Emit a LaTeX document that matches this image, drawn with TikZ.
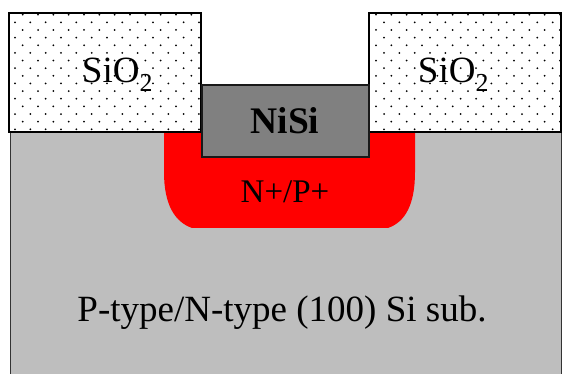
\documentclass[tikz,border=0pt]{standalone}
\usepackage{fontspec}
\setmainfont{Liberation Serif}
\usetikzlibrary{positioning}

\definecolor{subgray}{HTML}{BEBEBE}
\definecolor{nisigray}{HTML}{808080}
\tikzset{
    substrate/.style={draw=black!80, line width=1.6pt, fill=subgray},
    oxide/.style={draw=black, line width=2pt},
    silicide/.style={draw=black!90, line width=2pt, fill=nisigray},
    dot/.style={fill=black},
    bigtext/.style={font=\fontsize{37}{37}\selectfont, inner sep=0pt},
    midtext/.style={font=\fontsize{33}{33}\selectfont, inner sep=0pt}
}

\begin{document}
\begin{tikzpicture}[x=1pt, y=-1pt]
    \useasboundingbox (0,0) rectangle (563,374);

    % Substrate and doped region
    \draw [substrate] (10.5,132) rectangle (561.5,385);
    \fill [red] (164,132) -- (415,132) -- (415,172) .. controls (415,205) and (405,222) .. (388,228) -- (192,228) .. controls (175,222) and (164,205) .. (164,172) -- cycle;

    % Oxide blocks, dots, then outline on top
    \foreach \blockx/\evenx/\oddx in {9/22.7/15, 369/376/368.7} {
        \begin{scope}
            \clip (\blockx,13) rectangle ({\blockx+192},132);
            \fill [white] (\blockx,13) rectangle ({\blockx+192},132);
            \foreach \row in {0,2,...,14}
                \foreach \col in {-1,0,...,12}
                    \fill [dot] ({\evenx+15.33*\col},{14.7+7.64*\row}) circle (1pt);
            \foreach \row in {1,3,...,15}
                \foreach \col in {-1,0,...,12}
                    \fill [dot] ({\oddx+15.33*\col},{14.7+7.64*\row}) circle (1pt);
        \end{scope}
        \draw [oxide] (\blockx,13) rectangle ({\blockx+192},132);
    }

    % Silicide
    \draw [silicide] (201.5,85) rectangle (369,157);

    % Labels
    \node [bigtext] (oxideleft)  at (117.5,75)  {SiO\textsubscript{2}};
    \node [bigtext] (oxideright) at (453.5,75)  {SiO\textsubscript{2}};
    \node [bigtext, font=\fontsize{37.5}{37.5}\selectfont\bfseries] (nisi) at (285,121) {NiSi};
    \node [midtext] (doped) at (285,192) {N+/P+};
    \node [bigtext] (sub)   at (282,313) {P-type/N-type (100) Si sub.};
\end{tikzpicture}
\end{document}
